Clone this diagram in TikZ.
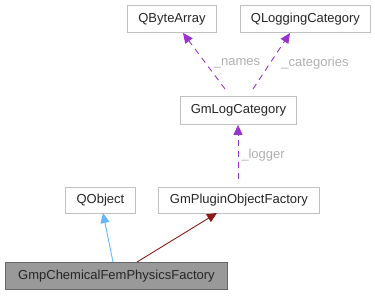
\documentclass[tikz,border=0pt]{standalone}
\usepackage{fontspec}
\setmainfont{Liberation Sans}
\usetikzlibrary{arrows.meta}
\definecolor{boxline}{HTML}{C0C0C0}
\definecolor{usage}{HTML}{9A32CD}
\definecolor{pubinh}{HTML}{63B8FF}
\definecolor{protinh}{HTML}{8B1A1A}
\definecolor{lbl}{HTML}{B0B0B0}
\tikzset{
  cls/.style={draw=boxline, line width=0.9pt, fill=white, inner sep=0pt, anchor=north west,
    font=\fontsize{13}{15}\selectfont, text=black!85},
  cur/.style={cls, draw=black!60, fill=black!40},
  usearrow/.style={draw=usage, line width=0.9pt, dash pattern=on 6pt off 5pt, -{Triangle[length=10pt,width=9pt,fill=usage]}},
  inharrow/.style={line width=0.9pt},
  elabel/.style={text=lbl, font=\fontsize{13}{15}\selectfont, inner sep=0pt}
}
\begin{document}
\begin{tikzpicture}[x=1pt,y=-1pt]
\useasboundingbox (0,0) rectangle (375,295);
\node[cls, minimum width=89pt, minimum height=27pt] (qba) at (127,5) {QByteArray};
\node[cls, minimum width=130pt, minimum height=27pt] (qlc) at (240,5) {QLoggingCategory};
\node[cls, minimum width=116pt, minimum height=28pt] (glc) at (180,96) {GmLogCategory};
\node[cls, minimum width=70pt, minimum height=26pt] (qo) at (65,187) {QObject};
\node[cls, minimum width=161pt, minimum height=26pt] (gpof) at (158,187) {GmPluginObjectFactory};
\node[cur, minimum width=222pt, minimum height=27pt] (gcf) at (5,262) {GmpChemicalFemPhysicsFactory};
\coordinate (n1) at (225,89);
\coordinate (c1) at (253,89);
\coordinate (l1) at (238,179);
\draw[usearrow] (n1) -- (183,33);
\draw[usearrow] (c1) -- (290,33);
\draw[usearrow] (l1) -- (glc.south -| l1);
\node[elabel, anchor=center] (lnames) at (237,63) {\_names};
\node[elabel, anchor=center] (lcats) at (315,63) {\_categories};
\node[elabel, anchor=center] (llog) at (263,155) {\_logger};
\draw[inharrow, draw=pubinh, -{Triangle[length=10pt,width=9pt,fill=pubinh]}] (gcf.north -| 113,0) -- (103,213);
\draw[inharrow, draw=protinh, -{Triangle[length=10pt,width=9pt,fill=protinh]}] (gcf.north -| 137,0) -- (217,213);
\end{tikzpicture}
\end{document}
